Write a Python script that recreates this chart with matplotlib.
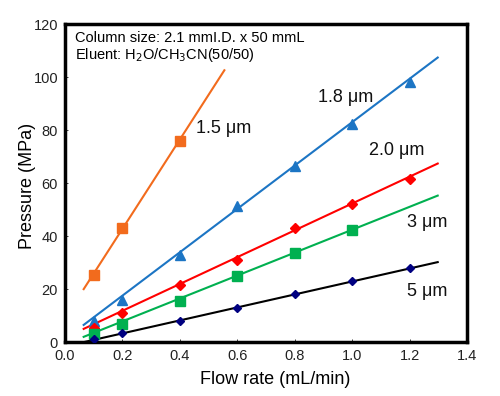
import numpy as np
import matplotlib
matplotlib.use("Agg")
import matplotlib.pyplot as plt

plt.rcParams['font.family'] = ['Liberation Sans', 'DejaVu Sans']

flow = [0.1, 0.2, 0.4, 0.6, 0.8, 1.0, 1.2]
p15 = [25.5, 43.0, 76.0]
p18 = [8.0, 16.0, 33.0, 51.5, 66.5, 82.5, 98.0]
p20 = [5.5, 11.0, 21.5, 31.0, 43.0, 52.0, 61.5]
p3 = [3.0, 7.0, 15.5, 25.0, 33.5, 42.5]
p5 = [1.0, 3.5, 8.0, 13.0, 18.0, 23.0, 28.0]

# fitted line end values
line15 = ([0.065, 0.555], [20.0, 102.6])
line18 = ([0.065, 1.298], [6.5, 107.4])
line20 = ([0.065, 1.298], [5.0, 67.4])
line3 = ([0.065, 1.298], [2.0, 55.3])
line5 = ([0.065, 1.298], [0.0, 30.2])

labels = ["1.5 μm", "1.8 μm", "2.0 μm", "3 μm", "5 μm"]

fig = plt.figure(figsize=(5.0, 3.96), dpi=100)
ax = fig.add_axes([0.13, 0.136, 0.804, 0.803])

series = [
    (p15, line15, '#F26B1D', '#F26B1D', 's', 6.5),
    (p18, line18, '#1C75C4', '#1C75C4', '^', 6.5),
    (p20, line20, '#FF0000', '#FF0000', 'D', 5.0),
    (p3, line3, '#00B050', '#00B050', 's', 6.5),
    (p5, line5, '#000000', '#000080', 'D', 4.5),
]
for vals, (lx, ly), lc, mc, mk, ms in series:
    ax.plot(lx, ly, color=lc, lw=1.5, zorder=2)
    ax.plot(flow[:len(vals)], vals, linestyle='none', marker=mk, ms=ms,
            color=mc, mec=mc, zorder=3)

label_pos = [(0.455, 80.5), (0.88, 92.5), (1.06, 72.5), (1.19, 45.0), (1.19, 19.0)]
for t, (x, y) in zip(labels, label_pos):
    ax.text(x, y, t, fontsize=13, va='center', ha='left', color='#111111')

ax.text(0.025, 0.958, "Column size: 2.1 mmI.D. x 50 mmL", transform=ax.transAxes,
        fontsize=10.5, va='center', ha='left')
ax.text(0.025, 0.902, "Eluent: H$_2$O/CH$_3$CN(50/50)", transform=ax.transAxes,
        fontsize=10.5, va='center', ha='left')

ax.set_xlim(0, 1.4)
ax.set_ylim(0, 120)
ax.set_xticks(np.arange(0, 1.41, 0.2))
ax.set_xticklabels([f"{v:.1f}" for v in np.arange(0, 1.41, 0.2)])
ax.set_yticks(np.arange(0, 121, 20))
ax.tick_params(direction='in', length=2, width=0.6, labelsize=10.5, colors='#222222',
               pad=5)
for s in ax.spines.values():
    s.set_linewidth(2.5)
    s.set_color('black')
ax.set_xlabel("Flow rate (mL/min)", fontsize=13)
ax.set_ylabel("Pressure (MPa)", fontsize=13)
ax.xaxis.set_label_coords(0.522, -0.092)
ax.yaxis.set_label_coords(-0.072, 0.49)

fig.savefig("out.png", dpi=100)
